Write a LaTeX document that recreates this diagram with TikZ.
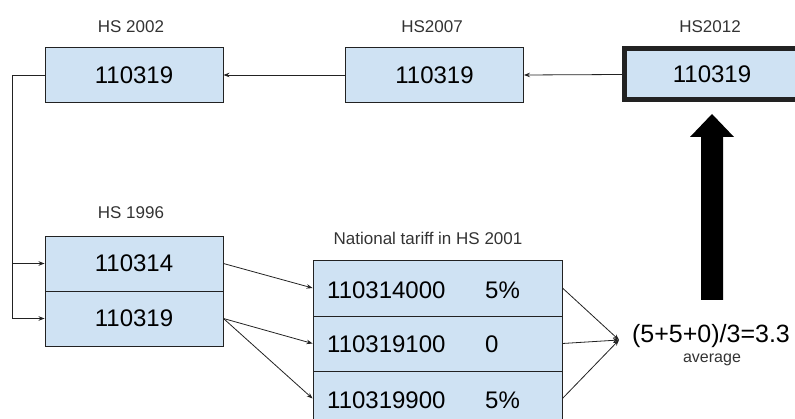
\documentclass[tikz,border=0pt]{standalone}
\usepackage{fontspec}
\setmainfont{Liberation Sans}
\usetikzlibrary{arrows.meta}
\definecolor{boxblue}{HTML}{CFE2F3}
\definecolor{edge}{HTML}{222222}
\tikzset{
  codebox/.style={draw=edge, fill=boxblue, line width=0.9pt, minimum width=178pt, minimum height=55pt, inner sep=0pt, font=\fontsize{24}{28}\selectfont},
  rowbox/.style={draw=edge, fill=boxblue, line width=0.9pt, minimum width=249pt, inner sep=0pt},
  caption/.style={font=\fontsize{17}{20}\selectfont, text=black!80, inner sep=0pt},
  cell/.style={anchor=west, inner sep=0pt, font=\fontsize{24}{28}\selectfont},
  conn/.style={draw=edge, line width=0.8pt, -{Stealth[length=6pt,width=4.5pt]}},
  plain/.style={draw=edge, line width=0.8pt}
}
\begin{document}
\begin{tikzpicture}[x=1pt,y=-1pt]
\useasboundingbox (0,0) rectangle (795,419);
\clip (0,0) rectangle (795,419);
% top row
\node[caption] (l2002) at (131,27) {HS 2002};
\node[caption] (l2007) at (432,27) {HS2007};
\node[caption] (l2012) at (710,27) {HS2012};
\node[codebox] (hs2002) at (134,75) {110319};
\node[codebox] (hs2007) at (434.5,75) {110319};
\node[codebox, line width=5pt, minimum width=175pt, minimum height=51pt] (hs2012) at (712,74.5) {110319};
\draw[conn] (hs2012.west) -- (hs2007.east);
\draw[conn] (hs2007.west) -- (hs2002.east);
% HS 1996
\node[caption] (l1996) at (131,213) {HS 1996};
\node[codebox] (b1) at (134,263.5) {110314};
\node[codebox] (b2) at (134,318.5) {110319};
\coordinate (lt) at (12,75);
\coordinate (lm) at (12,263.5);
\coordinate (lb) at (12,318.5);
\draw[plain] (hs2002.west) -- (lt) -- (lb);
\draw[conn] (lm) -- (b1.west);
\draw[conn] (lb) -- (b2.west);
% national tariff
\node[caption] (lnat) at (428,238) {National tariff in HS 2001};
\node[rowbox, minimum height=56pt] (r1) at (437.5,288) {};
\node[rowbox, minimum height=55pt] (r2) at (437.5,343.5) {};
\node[rowbox, minimum height=55pt] (r3) at (437.5,398.5) {};
\node[cell] (c1a) at (327,290) {110314000};
\node[cell] (c1b) at (485,290) {5\%};
\node[cell] (c2a) at (327,344) {110319100};
\node[cell] (c2b) at (485,344) {0};
\node[cell] (c3a) at (327,400) {110319900};
\node[cell] (c3b) at (485,400) {5\%};
\draw[conn] (b1.east) -- (r1.west);
\draw[conn] (b2.east) -- (r2.west);
\draw[conn] (b2.east) -- (r3.west);
% average
\coordinate (avg) at (619,340);
\draw[conn] (r1.east) -- (avg);
\draw[conn] (r2.east) -- (avg);
\draw[conn] (r3.east) -- (avg);
\node[inner sep=0pt, font=\fontsize{25}{29}\selectfont] (formula) at (711,336) {(5+5+0)/3=3.3};
\node[inner sep=0pt, font=\fontsize{16}{19}\selectfont, text=black!80] (average) at (712,360) {average};
% big arrow
\fill[black] (701,300) -- (701,137) -- (690,137) -- (712,114) -- (734,137) -- (723,137) -- (723,300) -- cycle;
\end{tikzpicture}
\end{document}
